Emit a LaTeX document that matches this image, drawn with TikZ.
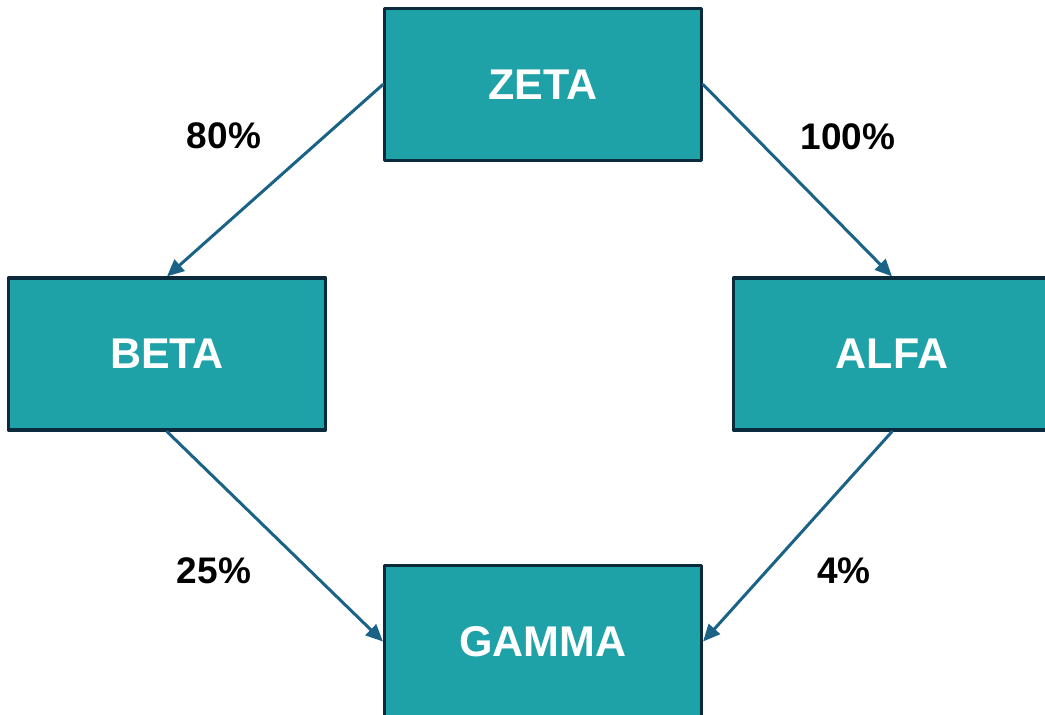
\documentclass[tikz,border=0pt]{standalone}
\usepackage{fontspec}
\setmainfont{Liberation Sans}
\usetikzlibrary{arrows.meta}

\definecolor{verdeacqua}{HTML}{1EA2A8}
\definecolor{bordoscuro}{HTML}{0B2A3C}
\definecolor{bluefreccia}{HTML}{1A6386}

\begin{document}
\begin{tikzpicture}[x=1pt, y=-1pt, line cap=round, line join=round,
  blocco/.style={draw=bordoscuro, line width=3.2pt, fill=verdeacqua,
    minimum width=317pt, minimum height=152pt, text=white,
    font=\fontsize{43}{48}\selectfont\bfseries},
  freccia/.style={-{Triangle[length=17pt,width=15pt]}, bluefreccia, line width=3pt},
  perc/.style={font=\fontsize{37}{42}\selectfont\bfseries, text=black}]

% area visibile
\useasboundingbox (0,0) rectangle (1045,715);

% blocchi
\node[blocco] (zeta)  at (543,84.5)  {ZETA};
\node[blocco] (beta)  at (167,354)   {BETA};
\node[blocco] (alfa)  at (892,354)   {ALFA};
\node[blocco] (gamma) at (543,641.5) {GAMMA};

% frecce
\draw[freccia] (zeta.west)  -- (beta.north);
\draw[freccia] (zeta.east)  -- (alfa.north);
\draw[freccia] (beta.south) -- (gamma.west);
\draw[freccia] (alfa.south) -- (gamma.east);

% percentuali
\node[perc] (p80)  at (224,136) {80\%};
\node[perc] (p100) at (848,137) {100\%};
\node[perc] (p25)  at (214,571) {25\%};
\node[perc] (p4)   at (844,571) {4\%};
\end{tikzpicture}
\end{document}
